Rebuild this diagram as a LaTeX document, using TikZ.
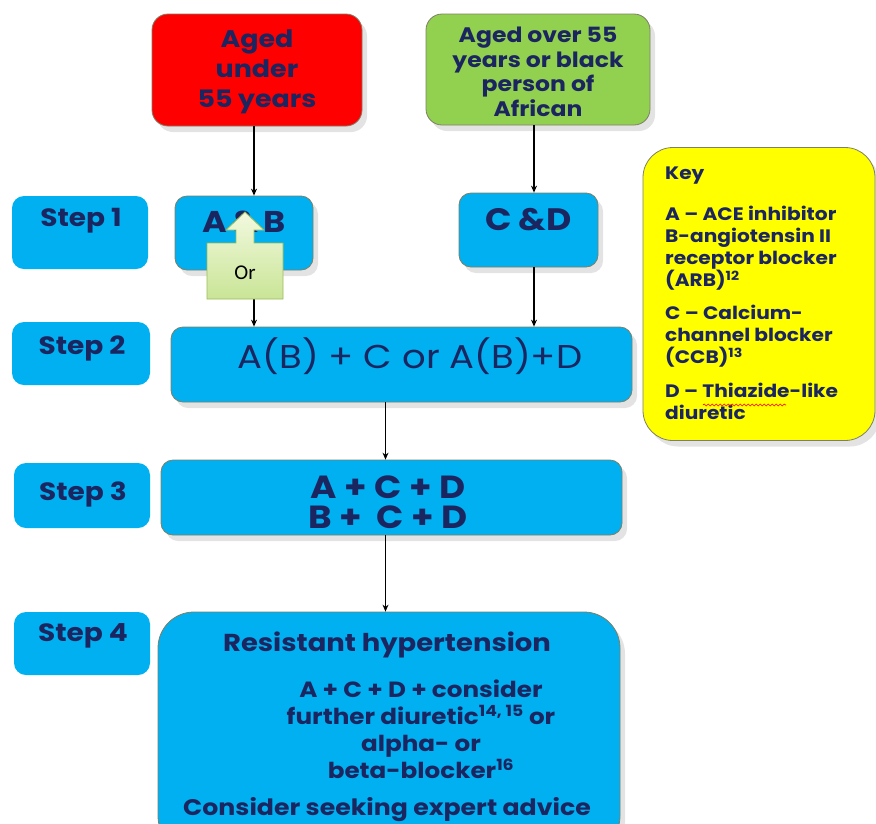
\documentclass[tikz,border=0pt]{standalone}
\usepackage{fontspec}
\setmainfont{Poppins}[FakeStretch=1.12]
\newfontfamily\orfont{Carlito}
\usetikzlibrary{shadows,arrows.meta,decorations.pathmorphing}
\definecolor{navy}{HTML}{1B2560}
\definecolor{cyanbox}{HTML}{00B0F0}
\definecolor{edgec}{HTML}{7F7F66}
\definecolor{redbox}{HTML}{FF0000}
\definecolor{greenbox}{HTML}{92D050}
\definecolor{keyy}{HTML}{FFFF00}
\definecolor{orline}{HTML}{9BBB59}
\definecolor{ortop}{HTML}{F2F9DF}
\definecolor{orbot}{HTML}{C9E596}
\tikzset{
  shad/.style={drop shadow={opacity=0.22,shadow xshift=5pt,shadow yshift=-6pt}},
  mainbox/.style={draw=edgec,line width=0.8pt,fill=cyanbox,rounded corners=12pt,shad},
  steplab/.style={fill=cyanbox,rounded corners=12pt},
  topbox/.style={draw=edgec,line width=0.8pt,rounded corners=16pt,shad},
  txt/.style={text=navy,font=\bfseries,align=center,inner sep=0pt},
  steptxt/.style={txt,font=\bfseries\fontsize{25}{28}\selectfont},
  arr/.style={line width=1.1pt,-{Stealth[length=7pt,width=6pt]}},
}
\begin{document}
\begin{tikzpicture}[x=1pt,y=-1pt]
\useasboundingbox (0,0) rectangle (876,823);
% top boxes
\node[topbox,fill=redbox,minimum width=210pt,minimum height=112pt] (red) at (257,70) {};
\node[txt,font=\bfseries\fontsize{24}{30}\selectfont] (redt) at (257,72) {Aged\\under\\55 years};
\node[topbox,fill=greenbox,minimum width=224pt,minimum height=111pt] (green) at (538,69.5) {};
\node[txt,font=\bfseries\fontsize{21}{24.5}\selectfont] (greent) at (538,72) {Aged over 55\\years or black\\person of\\African};
% step labels
\node[steplab,minimum width=136pt,minimum height=73pt] (s1) at (80,232.5) {};
\node[steptxt] (s1t) at (81,221) {Step 1};
\node[steplab,minimum width=138pt,minimum height=63pt] (s2) at (81,353.5) {};
\node[steptxt] (s2t) at (82,348) {Step 2};
\node[steplab,minimum width=136pt,minimum height=65pt] (s3) at (82,495.5) {};
\node[steptxt] (s3t) at (83,494) {Step 3};
\node[steplab,minimum width=136pt,minimum height=63pt] (s4) at (82,643.5) {};
\node[steptxt] (s4t) at (83,636) {Step 4};
% step 1 boxes
\node[mainbox,minimum width=138pt,minimum height=74pt] (ab) at (244,233) {};
\node[txt,font=\bfseries\fontsize{30}{33}\selectfont] (abt) at (244,222) {A\,\&\,B};
\node[mainbox,minimum width=139pt,minimum height=74pt] (cd) at (528.5,230) {};
\node[txt,font=\bfseries\fontsize{31}{33}\selectfont] (cdt) at (528.5,220) {C \&D};
% step 2..4 boxes
\node[mainbox,minimum width=461pt,minimum height=75pt] (m2) at (401.5,364.5) {};
\node[txt,font=\mdseries\fontsize{33}{36}\selectfont] (m2t) at (410,356) {A(B) + C or A(B)+D};
\node[mainbox,minimum width=461pt,minimum height=75pt] (m3) at (391.5,497.5) {};
\node[txt,font=\bfseries\fontsize{32}{30}\selectfont] (m3t) at (388,502) {A + C + D\\B +~~C + D};
\node[mainbox,rounded corners=36pt,minimum width=462pt,minimum height=240pt] (m4) at (389,732) {};
\node[txt,font=\bfseries\fontsize{24.5}{28}\selectfont] (m4a) at (387,645) {Resistant hypertension};
\node[txt,font=\bfseries\fontsize{22}{27}\selectfont] (m4b) at (421,729) {A + C + D + consider\\further diuretic\textsuperscript{14, 15} or\\alpha- or\\beta-blocker\textsuperscript{16}};
\node[txt,font=\bfseries\fontsize{22.5}{26}\selectfont] (m4c) at (387,810) {Consider seeking expert advice};
% key
\node[topbox,fill=keyy,rounded corners=30pt,minimum width=232pt,minimum height=293pt] (key) at (759,294) {};
\node[txt,align=left,anchor=north west,font=\bfseries\fontsize{18}{22}\selectfont] (keyt) at (665,167) {Key\\[19pt]A -- ACE inhibitor\\B-angiotensin II\\receptor blocker\\(ARB)\textsuperscript{12}\\[11pt]C -- Calcium-\\channel blocker\\(CCB)\textsuperscript{13}\\[12pt]D -- Thiazide-like\\diuretic};
\draw[red,line width=0.6pt,decorate,decoration={snake,amplitude=1pt,segment length=4pt}] (703,405) -- (786,405);
% connectors
\draw[arr] ([xshift=-3pt]red.south) -- ([xshift=-3pt]red.south |- ab.north);
\draw[arr] ([xshift=-4pt]green.south) -- ([xshift=-4pt]green.south |- cd.north);
\draw[arr] ([xshift=10pt]ab.south) -- ([xshift=10pt]ab.south |- m2.north);
\draw[arr] ([xshift=5.5pt]cd.south) -- ([xshift=5.5pt]cd.south |- m2.north);
\draw[arr] ([xshift=-16pt]m2.south) -- ([xshift=-16pt]m2.south |- m3.north);
\draw[arr] ([xshift=-16pt]m2.south |- m3.south) -- ([xshift=-16pt]m2.south |- m4.north);
% Or callout
\draw[orline,line width=0.9pt,top color=ortop,bottom color=orbot]
  (207,243) -- (236,243) -- (236,230) -- (226,230) -- (245,212) -- (264,230) -- (254,230) -- (254,243) -- (283,243) -- (283,299) -- (207,299) -- cycle;
\node[inner sep=0pt,font=\orfont\fontsize{21}{24}\selectfont] (ort) at (245,273) {Or};
\end{tikzpicture}
\end{document}
